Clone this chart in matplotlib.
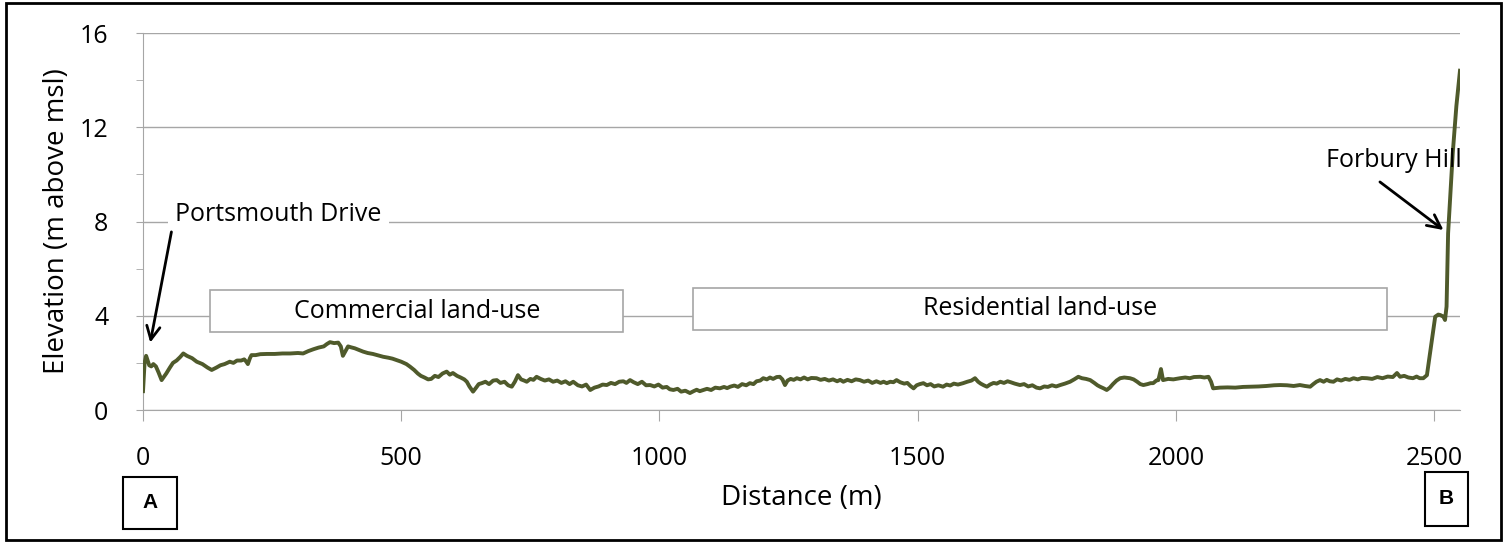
import matplotlib
matplotlib.use("Agg")
import matplotlib.pyplot as plt
from matplotlib.patches import Rectangle
from matplotlib.ticker import MultipleLocator

plt.rcParams['font.family'] = ['Open Sans', 'DejaVu Sans']

# Elevation profile: distance (m) / elevation (m above msl)
distance = [
    0, 3, 6, 9, 12, 16, 20, 25, 30, 36,
    45, 52, 58, 65, 72, 78, 85, 95, 104, 115,
    125, 133, 142, 150, 158, 168, 175, 182, 190, 196,
    200, 203, 207, 210, 218, 227, 240, 255, 270, 285,
    300, 310, 320, 330, 340, 350, 356, 362, 370, 378,
    383, 387, 392, 397, 403, 410, 418, 426, 435, 445,
    455, 465, 475, 483, 491, 500, 510, 517, 525, 532,
    538, 545, 552, 558, 565, 572, 580, 588, 594, 600,
    608, 615, 622, 627, 632, 639, 645, 650, 656, 663,
    670, 678, 685, 692, 700, 707, 714, 720, 726, 732,
    738, 743, 750, 756, 762, 770, 778, 786, 794, 802,
    810, 818, 826, 833, 842, 850, 858, 866, 874, 882,
    890, 898, 906, 914, 922, 930, 936, 943, 950, 958,
    966, 974, 982, 990, 998, 1006, 1014, 1020, 1027, 1035,
    1042, 1050, 1059, 1066, 1072, 1078, 1085, 1092, 1100, 1108,
    1117, 1125, 1131, 1137, 1145, 1152, 1160, 1168, 1175, 1182,
    1188, 1195, 1201, 1208, 1214, 1220, 1227, 1233, 1238, 1243,
    1248, 1254, 1260, 1266, 1273, 1280, 1287, 1294, 1304, 1312,
    1320, 1328, 1336, 1344, 1350, 1356, 1364, 1372, 1380, 1388,
    1396, 1404, 1412, 1420, 1428, 1434, 1440, 1447, 1453, 1459,
    1466, 1474, 1480, 1486, 1492, 1498, 1504, 1511, 1518, 1525,
    1532, 1540, 1549, 1556, 1563, 1570, 1578, 1588, 1596, 1604,
    1611, 1617, 1622, 1628, 1634, 1640, 1647, 1653, 1660, 1667,
    1674, 1680, 1688, 1698, 1706, 1714, 1722, 1730, 1737, 1745,
    1752, 1760, 1768, 1776, 1785, 1795, 1803, 1811, 1818, 1826,
    1834, 1842, 1848, 1853, 1860, 1866, 1872, 1878, 1885, 1892,
    1900, 1911, 1918, 1925, 1931, 1937, 1945, 1951, 1956, 1962,
    1966, 1969, 1971, 1973, 1975, 1985, 1995, 2008, 2018, 2027,
    2035, 2047, 2055, 2063, 2068, 2072, 2085, 2100, 2115, 2130,
    2144, 2160, 2175, 2190, 2202, 2215, 2228, 2240, 2250, 2260,
    2266, 2272, 2279, 2286, 2292, 2298, 2305, 2312, 2320, 2328,
    2336, 2344, 2352, 2360, 2370, 2380, 2390, 2400, 2410, 2420,
    2428, 2434, 2442, 2450, 2459, 2466, 2472, 2479, 2486, 2502,
    2508, 2512, 2518, 2521, 2524, 2527, 2536, 2543, 2550,
]
elevation = [
    0.8, 2.0, 2.3, 2.1, 1.9, 1.85, 1.95, 1.85, 1.6, 1.27,
    1.55, 1.8, 2.0, 2.1, 2.25, 2.4, 2.3, 2.2, 2.05, 1.95,
    1.8, 1.7, 1.8, 1.9, 1.95, 2.05, 2.0, 2.1, 2.1, 2.15,
    2.05, 1.95, 2.2, 2.33, 2.33, 2.37, 2.38, 2.38, 2.4, 2.4,
    2.42, 2.4, 2.5, 2.58, 2.65, 2.7, 2.8, 2.88, 2.84, 2.86,
    2.7, 2.3, 2.5, 2.7, 2.66, 2.62, 2.55, 2.48, 2.42, 2.38,
    2.32, 2.26, 2.22, 2.18, 2.12, 2.05, 1.95, 1.84, 1.7, 1.55,
    1.45, 1.38, 1.3, 1.32, 1.45, 1.4, 1.55, 1.63, 1.5, 1.57,
    1.45, 1.38, 1.3, 1.2, 1.0, 0.78, 0.95, 1.1, 1.14, 1.2,
    1.1, 1.25, 1.27, 1.15, 1.2, 1.05, 0.99, 1.2, 1.48, 1.3,
    1.25, 1.2, 1.32, 1.28, 1.41, 1.32, 1.25, 1.3, 1.2, 1.25,
    1.15, 1.22, 1.1, 1.2, 1.05, 1.0, 1.08, 0.85, 0.95, 1.0,
    1.08, 1.06, 1.15, 1.1, 1.2, 1.22, 1.15, 1.27, 1.18, 1.1,
    1.2, 1.05, 1.06, 1.0, 1.08, 0.95, 0.98, 0.88, 0.85, 0.9,
    0.78, 0.82, 0.72, 0.8, 0.86, 0.8, 0.85, 0.9, 0.85, 0.95,
    0.92, 0.98, 0.93, 0.99, 1.04, 0.98, 1.1, 1.05, 1.14, 1.1,
    1.22, 1.25, 1.35, 1.3, 1.38, 1.32, 1.4, 1.41, 1.3, 1.06,
    1.25, 1.32, 1.28, 1.35, 1.3, 1.38, 1.3, 1.36, 1.35, 1.28,
    1.32, 1.25, 1.3, 1.22, 1.28, 1.2, 1.28, 1.22, 1.3, 1.27,
    1.2, 1.25, 1.15, 1.22, 1.15, 1.2, 1.14, 1.2, 1.18, 1.27,
    1.18, 1.12, 1.15, 1.02, 0.92, 1.05, 1.1, 1.14, 1.05, 1.1,
    1.0, 1.05, 0.99, 1.08, 1.04, 1.12, 1.08, 1.14, 1.2, 1.25,
    1.35, 1.2, 1.12, 1.05, 0.99, 1.08, 1.15, 1.12, 1.2, 1.15,
    1.22, 1.18, 1.12, 1.06, 1.1, 1.0, 1.05, 0.95, 0.92, 1.0,
    0.98, 1.05, 1.0, 1.06, 1.12, 1.2, 1.3, 1.41, 1.35, 1.32,
    1.27, 1.15, 1.05, 0.99, 0.92, 0.85, 0.95, 1.1, 1.25, 1.35,
    1.38, 1.35, 1.3, 1.2, 1.1, 1.06, 1.1, 1.14, 1.14, 1.25,
    1.27, 1.55, 1.74, 1.5, 1.27, 1.32, 1.3, 1.35, 1.38, 1.35,
    1.4, 1.41, 1.38, 1.41, 1.2, 0.92, 0.95, 0.96, 0.95, 0.98,
    0.99, 1.0, 1.02, 1.05, 1.06, 1.05, 1.02, 1.06, 1.02, 0.99,
    1.1, 1.2, 1.27, 1.2, 1.28, 1.22, 1.2, 1.3, 1.25, 1.32,
    1.28, 1.35, 1.3, 1.36, 1.35, 1.32, 1.4, 1.35, 1.42, 1.4,
    1.57, 1.41, 1.45, 1.38, 1.35, 1.42, 1.35, 1.35, 1.48, 3.96,
    4.05, 4.03, 3.96, 3.82, 4.39, 7.5, 10.9, 12.9, 14.4,
]

fig = plt.figure(figsize=(15.07, 5.43), dpi=100)
ax = fig.add_axes([0.0949, 0.2449, 0.8739, 0.6943])

grey = '#a6a6a6'
ax.set_xlim(0, 2550)
ax.set_ylim(0, 16)
ax.yaxis.set_major_locator(MultipleLocator(4))
ax.yaxis.set_minor_locator(MultipleLocator(2))
ax.xaxis.set_major_locator(MultipleLocator(500))
ax.grid(axis='y', which='major', color=grey, linewidth=1)
ax.set_axisbelow(True)
for s in ['top', 'right']:
    ax.spines[s].set_visible(False)
for s in ['left', 'bottom']:
    ax.spines[s].set_color(grey)
ax.tick_params(axis='y', which='both', length=5, color=grey, labelsize=18, pad=20)
ax.tick_params(axis='x', length=8, color=grey, labelsize=18, pad=18)

ax.plot(distance, elevation, color='#4f5a2b', linewidth=2.8, zorder=3)

# land-use boxes
for x0, x1, y0, y1, label in [(130, 930, 3.31, 5.09, 'Commercial land-use'),
                              (1064, 2409, 3.40, 5.18, 'Residential land-use')]:
    ax.add_patch(Rectangle((x0, y0), x1 - x0, y1 - y0, facecolor='white',
                           edgecolor=grey, linewidth=1.2, zorder=2))
    ax.text((x0 + x1) / 2, (y0 + y1) / 2, label, ha='center', va='center',
            fontsize=18, zorder=4)

arrow = dict(arrowstyle='->', color='black', lw=2, mutation_scale=24,
             shrinkA=0, shrinkB=0)
ax.text(262, 8.3, 'Portsmouth Drive', ha='center', va='center', fontsize=18,
        bbox=dict(facecolor='white', edgecolor='none', pad=5))
ax.annotate('', xy=(14, 2.86), xytext=(55, 7.56), arrowprops=arrow)
ax.text(2422, 10.6, 'Forbury Hill', ha='center', va='center', fontsize=18)
ax.annotate('', xy=(2518, 7.64), xytext=(2395, 9.68), arrowprops=arrow)

ax.set_xlabel('Distance (m)', fontsize=20, labelpad=9)
ax.set_ylabel('Elevation (m above msl)', fontsize=20, labelpad=6)

# A / B endpoint markers
for x0, y0, w, h, lab in [(0.0816, 0.0258, 0.0358, 0.0958, 'A'),
                          (0.9456, 0.0313, 0.0285, 0.0995, 'B')]:
    fig.patches.append(Rectangle((x0, y0), w, h, transform=fig.transFigure,
                                 facecolor='white', edgecolor='black', linewidth=1.5))
    fig.text(x0 + w / 2, y0 + h / 2, lab, ha='center', va='center',
             fontsize=15, fontweight='bold', family=['Liberation Sans'])

fig.patches.append(Rectangle((0.004, 0.006), 0.992, 0.988, transform=fig.transFigure,
                             facecolor='none', edgecolor='black', linewidth=2))

fig.savefig('out.png', dpi=100)
